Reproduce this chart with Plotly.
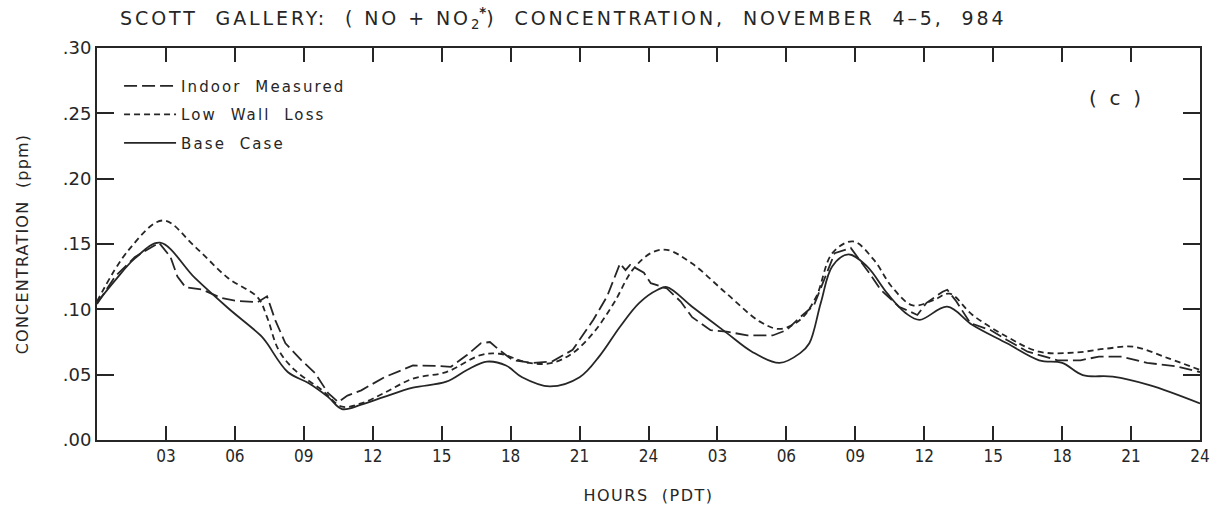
import plotly.graph_objects as go

# Hours since start (0-48)
base_h = [0, 0.78, 1.65, 2.74, 4.26, 5.7, 7.18, 7.4, 8.3, 9.2, 10.05, 10.66, 11.5, 12.5,
          13.75, 15.2, 16.1, 16.97, 17.8, 18.5, 19.7, 21.0, 21.9, 22.76, 23.6, 24.4, 24.8,
          25.9, 27.4, 28.5, 29.7, 30.6, 31.0, 31.5, 32.0, 32.7, 33.5, 34.4, 35.2, 35.8, 37.0,
          38.1, 39.6, 41.0, 42.0, 42.9, 44.2, 45.8, 48.0]
base_v = [0.105, 0.122, 0.139, 0.151, 0.124, 0.101, 0.079, 0.074, 0.052, 0.0436, 0.033, 0.0237, 0.027, 0.033,
          0.040, 0.0446, 0.0536, 0.060, 0.057, 0.048, 0.041, 0.048, 0.065, 0.0867, 0.105, 0.115, 0.117,
          0.102, 0.082, 0.0676, 0.059, 0.0665, 0.074, 0.105, 0.133, 0.142, 0.133, 0.112, 0.097, 0.092, 0.102,
          0.088, 0.074, 0.061, 0.059, 0.0497, 0.0485, 0.042, 0.028]

low_h = [0, 1.36, 2.87, 4.26, 5.7, 7.0, 7.4, 7.9, 8.6, 9.8, 10.66, 11.5, 12.5,
         13.75, 15.2, 16.7, 17.5, 18.8, 19.8, 20.7, 21.6, 22.5, 23.3, 24.1, 24.8,
         25.9, 27.4, 28.85, 29.7, 30.6, 31.3, 32.0, 32.9, 33.8, 34.6, 35.5, 36.4, 37.1,
         38.1, 39.6, 41.0, 42.5, 43.95, 45.1, 46.6, 48.0]
low_v = [0.106, 0.145, 0.168, 0.148, 0.124, 0.109, 0.094, 0.069, 0.0536, 0.038, 0.0255, 0.028, 0.036,
         0.047, 0.052, 0.065, 0.066, 0.059, 0.059, 0.0665, 0.082, 0.105, 0.130, 0.143, 0.1455,
         0.135, 0.112, 0.0906, 0.085, 0.092, 0.1097, 0.143, 0.152, 0.138, 0.117, 0.103, 0.107, 0.112,
         0.0957, 0.079, 0.0676, 0.0668, 0.070, 0.0714, 0.0627, 0.0536]

meas_h = [0, 0.78, 1.65, 2.7, 3.2, 3.5, 3.85, 4.6, 5.4, 6.0, 7.0, 7.4, 7.75, 8.2, 8.9, 9.5,
          10.05, 10.5, 10.9, 11.5, 12.5, 13.75, 14.9, 15.4, 16.1, 16.7, 17.1, 17.5, 18.1,
          19.0, 19.8, 20.7, 21.6, 22.2, 22.76, 23.0, 23.2, 23.8, 24.1, 24.8, 25.4, 25.9,
          26.7, 27.4, 28.3, 29.4, 30.0, 30.6, 31.2, 31.8, 32.1, 32.8, 33.6, 34.1, 34.9,
          35.7, 36.1, 36.8, 37.0, 37.4, 38.0, 38.9, 39.6, 40.5, 41.8, 42.8, 43.6, 44.6,
          45.7, 46.9, 48.0]
meas_v = [0.104, 0.125, 0.140, 0.151, 0.140, 0.125, 0.117, 0.115, 0.1087, 0.1066, 0.1055, 0.110, 0.092,
          0.074, 0.061, 0.051, 0.036, 0.029, 0.034, 0.038, 0.048, 0.057, 0.0566, 0.056, 0.065,
          0.074, 0.075, 0.069, 0.061, 0.059, 0.060, 0.069, 0.092, 0.110, 0.135, 0.130, 0.134,
          0.128, 0.120, 0.116, 0.106, 0.094, 0.084, 0.083, 0.080, 0.080, 0.084, 0.094, 0.103,
          0.130, 0.143, 0.147, 0.128, 0.115, 0.102, 0.0957, 0.105, 0.1135, 0.115, 0.106, 0.0895,
          0.084, 0.0765, 0.0676, 0.061, 0.061, 0.0638, 0.0638, 0.059, 0.0566, 0.052]

tick_vals = [3, 6, 9, 12, 15, 18, 21, 24, 27, 30, 33, 36, 39, 42, 45, 48]
tick_text = ["03", "06", "09", "12", "15", "18", "21", "24",
             "03", "06", "09", "12", "15", "18", "21", "24"]
y_vals = [0.0, 0.05, 0.10, 0.15, 0.20, 0.25, 0.30]
y_text = [".00", ".05", ".10", ".15", ".20", ".25", ".30"]

ink = "#262626"


def spaced(s, px):
    return '<span style="letter-spacing:%spx">%s</span>' % (px, s)


fig = go.Figure()
fig.add_trace(go.Scatter(x=meas_h, y=meas_v, mode="lines", name=spaced("Indoor  Measured", 2.1),
                         legendgroup="a", line=dict(color=ink, width=1.8, dash="13px,5px")))
fig.add_trace(go.Scatter(x=low_h, y=low_v, mode="lines", name=spaced("Low  Wall  Loss", 2.1),
                         legendgroup="b", line=dict(color=ink, width=1.8, dash="6px,4px"), line_shape="spline"))
fig.add_trace(go.Scatter(x=base_h, y=base_v, mode="lines", name=spaced("Base  Case", 2.1),
                         legendgroup="c", line=dict(color=ink, width=1.8), line_shape="spline"))

title_txt = (spaced("SCOTT  GALLERY:  ( NO + NO", 2.9) + "<sub>2</sub><sup><b>*</b></sup>"
             + spaced(")  CONCENTRATION,  NOVEMBER  4\u20135,  984", 2.9))

fig.update_layout(
    width=1222, height=506,
    margin=dict(l=97, r=22, t=48, b=66),
    paper_bgcolor="white", plot_bgcolor="white",
    font=dict(family="DejaVu Sans", color=ink),
    showlegend=True,
    legend=dict(x=0.02, y=0.945, xanchor="left", yanchor="top", bgcolor="rgba(0,0,0,0)",
                font=dict(size=15, family="DejaVu Sans", color=ink), itemwidth=52,
                tracegroupgap=6),
    title=dict(text=title_txt,
               x=120/1222, xanchor="left", y=0.963, yanchor="middle",
               font=dict(size=19, family="DejaVu Sans", color=ink)),
    xaxis=dict(range=[0, 48], tickvals=tick_vals, ticktext=tick_text, ticks="inside", ticklen=14,
               tickwidth=1.5, tickcolor=ink, showline=True, linecolor=ink, linewidth=2, mirror="ticks",
               showgrid=False, zeroline=False, automargin=False,
               tickfont=dict(size=17, family="DejaVu Sans Condensed, Roboto Condensed, Liberation Sans Narrow, DejaVu Sans", color=ink),
               title=dict(text=spaced("HOURS  (PDT)", 1.5), font=dict(size=16, family="DejaVu Sans", color=ink), standoff=24)),
    yaxis=dict(range=[0, 0.30], tickvals=y_vals, ticktext=y_text, ticks="inside", ticklen=17,
               tickwidth=1.5, tickcolor=ink, showline=True, linecolor=ink, linewidth=2, mirror="ticks",
               showgrid=False, zeroline=False, automargin=False,
               tickfont=dict(size=18, family="DejaVu Sans", color=ink),
               title=dict(text=spaced("CONCENTRATION  (ppm)", 1.2), font=dict(size=16, family="DejaVu Sans", color=ink), standoff=30)),
)
fig.add_annotation(text="(  c  )", xref="paper", yref="paper", x=0.923, y=0.872,
                   xanchor="center", yanchor="middle", showarrow=False,
                   font=dict(size=20, family="DejaVu Sans", color=ink))

fig.write_html("out.html")
